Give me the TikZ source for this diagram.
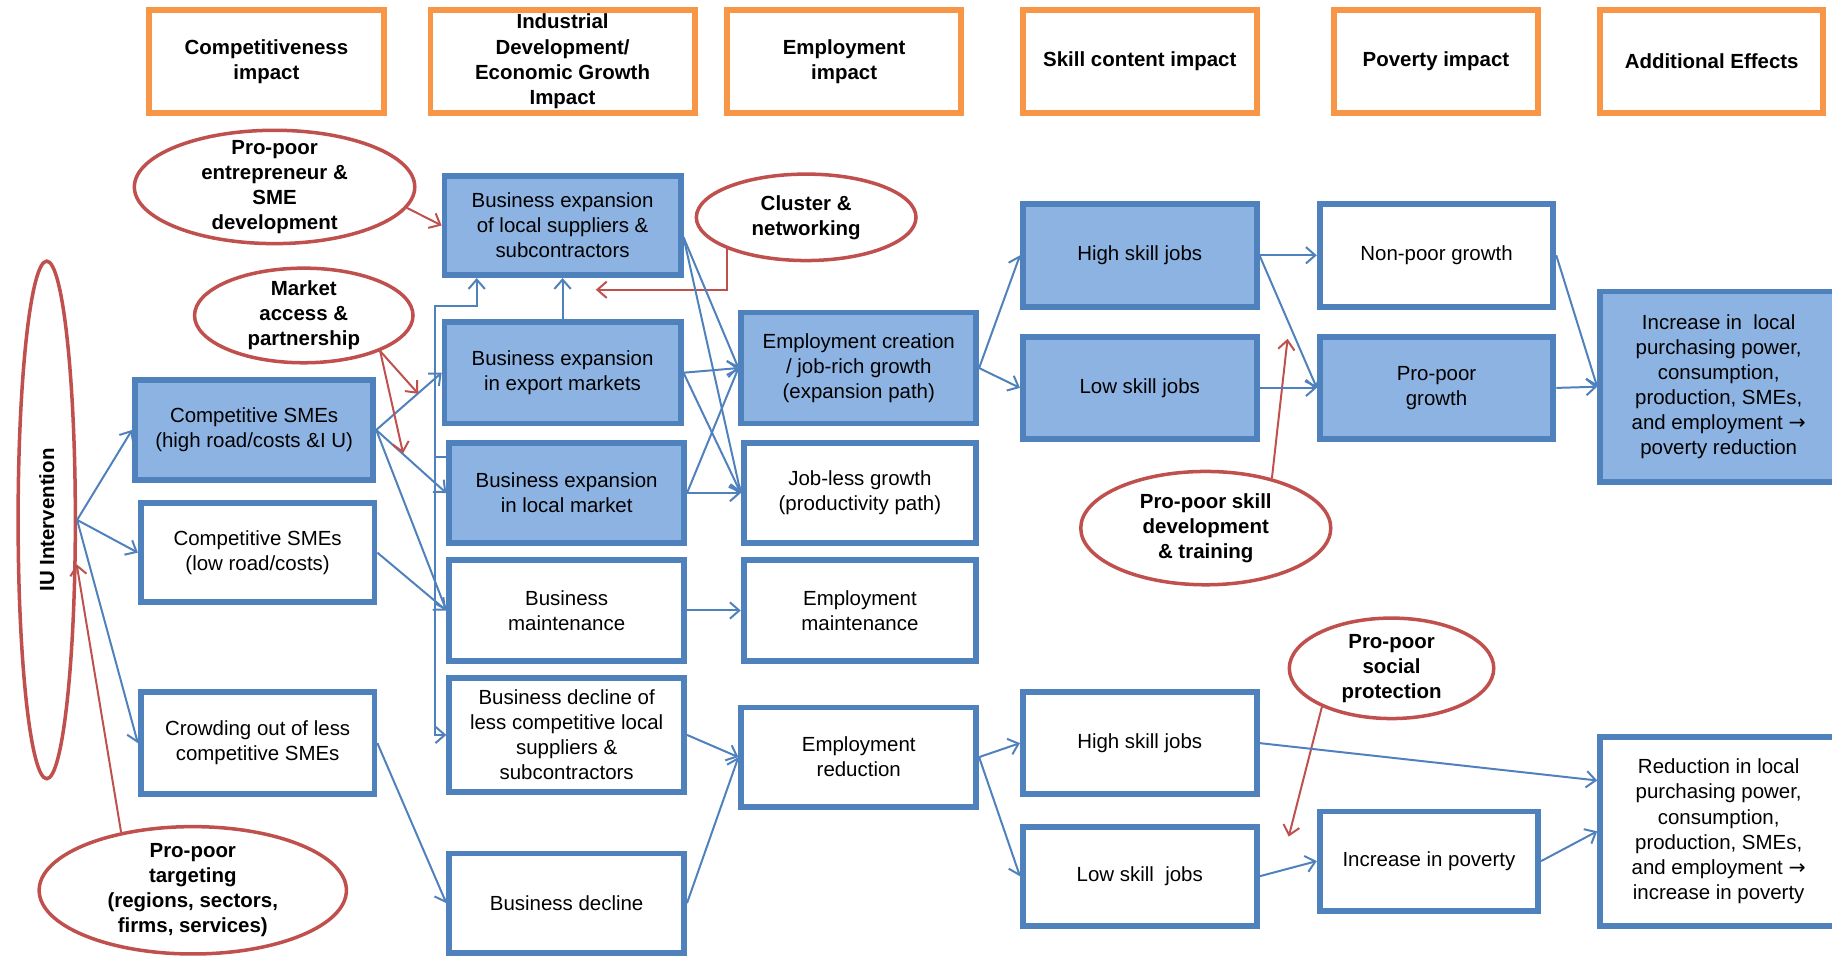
\documentclass[tikz,border=0pt]{standalone}
\usepackage{fontspec}
\setmainfont{Liberation Sans}
\newfontfamily\arrfont{DejaVu Sans}
\usetikzlibrary{shapes.geometric,arrows.meta,calc}
\definecolor{orng}{HTML}{F79646}
\definecolor{bblue}{HTML}{4F81BD}
\definecolor{bfl}{HTML}{8DB3E2}
\definecolor{rred}{HTML}{C0504D}
\newcommand\myfs{\fontsize{17.5}{21.5}\selectfont}
\begin{document}
\begin{tikzpicture}[x=1pt,y=-1pt,
 sz/.style 2 args={minimum width=#1pt,minimum height=#2pt},
 hdr/.style={rectangle, draw=orng, line width=5pt, fill=white, align=center, inner sep=0pt, font=\myfs\bfseries},
 bbox/.style={rectangle, draw=bblue, line width=5pt, fill=white, align=center, inner sep=0pt, font=\myfs},
 bfill/.style={bbox, fill=bfl},
 rell/.style={ellipse, draw=rred, line width=3pt, inner sep=0pt},
 rtext/.style={align=center, inner sep=0pt, font=\myfs\bfseries},
 conn/.style={draw=bblue, line width=1.7pt, -{Straight Barb[length=8pt,width=14pt]}},
 rconn/.style={draw=rred, line width=1.7pt, -{Straight Barb[length=8pt,width=14pt]}},
]
\useasboundingbox[fill=white] (0,0) rectangle (1568,820);

% headers
\node[hdr, sz={201}{88}] (h1) at (228,52.5) {Competitiveness\\impact};
\node[hdr, sz={226}{88}] (h2) at (481.5,52.5) {Industrial\\Development/\\Economic Growth\\Impact};
\node[hdr, sz={200}{88}] (h3) at (722.5,52.5) {Employment\\impact};
\node[hdr, sz={200}{88}] (h4) at (975.5,52.5) {Skill content impact};
\node[hdr, sz={175}{88}] (h5) at (1229,52.5) {Poverty impact};
\node[hdr, sz={191}{88}] (h6) at (1465,52.5) {Additional Effects};

% boxes
\node[bfill, sz={204}{85}] (cshigh) at (217.5,368) {Competitive SMEs\\(high road/costs \&I U)};
\node[bbox, sz={200}{85}] (cslow) at (220.5,473) {Competitive SMEs\\(low road/costs)};
\node[bbox, sz={200}{87}] (crowd) at (220.5,636) {Crowding out of less\\competitive SMEs};
\node[bfill, sz={202}{85}] (sup) at (481.5,193) {Business expansion\\of local suppliers \&\\subcontractors};
\node[bfill, sz={202}{87}] (export) at (481.5,319) {Business expansion\\in export markets};
\node[bfill, sz={201}{85}] (local) at (485,422) {Business expansion\\in local market};
\node[bbox, sz={201}{86}] (maint) at (485,522.5) {Business\\maintenance};
\node[bbox, sz={201}{97}] (dsup) at (485,629) {Business decline of\\less competitive local\\suppliers \&\\subcontractors};
\node[bbox, sz={201}{85}] (decl) at (485,773) {Business decline};
\node[bfill, sz={201}{95}] (ecr) at (735,315) {Employment creation\\/ job-rich growth\\(expansion path)};
\node[bbox, sz={199}{85}] (jl) at (736,422) {Job-less growth\\(productivity path)};
\node[bbox, sz={199}{86}] (em) at (736,522.5) {Employment\\maintenance};
\node[bbox, sz={201}{85}] (ered) at (735,648) {Employment\\reduction};
\node[bfill, sz={200}{88}] (hs1) at (975.5,218.5) {High skill jobs};
\node[bfill, sz={200}{87}] (ls1) at (975.5,332) {Low skill jobs};
\node[bbox, sz={200}{87}] (hs2) at (975.5,636) {High skill jobs};
\node[bbox, sz={200}{85}] (ls2) at (975.5,750) {Low skill\ \ jobs};
\node[bbox, sz={200}{88}] (np) at (1229.5,218.5) {Non-poor growth};
\node[bfill, sz={200}{87}] (pp) at (1229.5,332) {Pro-poor\\growth};
\node[bbox, sz={187}{85}] (ip) at (1223,737) {Increase in poverty};
\node[bfill, sz={203}{163}] (inc) at (1471,331) {Increase in\ \ local\\purchasing power,\\consumption,\\production, SMEs,\\and employment {\arrfont →}\\poverty reduction};
\node[bbox, sz={203}{162}] (rdc) at (1471,711.5) {Reduction in local\\purchasing power,\\consumption,\\production, SMEs,\\and employment {\arrfont →}\\increase in poverty};

% ellipses
\node[rell, sz={240}{97}] (ent) at (235,160) {};
\node[rtext] (entT) at (ent.center) {Pro-poor\\entrepreneur \&\\SME\\development};
\node[rell, sz={187}{81}] (mkt) at (260,270) {};
\node[rtext] (mktT) at (mkt.center) {Market\\access \&\\partnership};
\node[rell, sz={188}{74}] (clu) at (690,186) {};
\node[rtext] (cluT) at (clu.center) {Cluster \&\\networking};
\node[rell, sz={214}{97}] (skd) at (1032,452) {};
\node[rtext] (skdT) at (skd.center) {Pro-poor skill\\development\\\& training};
\node[rell, sz={175}{86}] (sp) at (1191,572) {};
\node[rtext] (spT) at (sp.center) {Pro-poor\\social\\protection};
\node[rell, sz={263}{109}] (tgt) at (165,762) {};
\node[rtext] (tgtT) at (tgt.center) {Pro-poor\\targeting\\(regions, sectors,\\firms, services)};
\node[rell, sz={49}{443}] (iu) at (40,445) {};
\node[rtext, rotate=90] (iuT) at (iu.center) {IU Intervention};

% free ends
\coordinate (mA) at (358,337);
\coordinate (mB) at (345,388);
\coordinate (cluE) at (510,248);
\coordinate (skdE) at (1102,290);
\coordinate (spE) at (1103,716);
\coordinate (busL) at (372,391);
\coordinate (busT) at (408,262);

% IU
\draw[conn] (iu.east) -- (cshigh.west);
\draw[conn] (iu.east) -- (cslow.west);
\draw[conn] (iu.east) -- (crowd.west);
\draw[rconn] (tgt.141) -- (iu.-56);

% column 1 -> 2
\draw[conn] (cshigh.east) -- (export.west);
\draw[conn] (cshigh.east) -- (local.west);
\draw[conn] (cshigh.east) -- (maint.west);
\draw[conn] (cslow.east) -- (maint.west);
\draw[conn] (crowd.east) -- (decl.west);

% red influences
\draw[rconn] (ent.-9) -- (sup.west);
\draw[rconn] (mkt.-25) -- (mA);
\draw[rconn] (mkt.-25) -- (mB);
\draw[rconn] (clu.202) |- (cluE);
\draw[rconn] (skd.37) -- (skdE);
\draw[rconn] (sp.209) -- (spE);

% bus
\draw[conn] (local.west |- busL) -- (busL) |- (busT) -- (busT |- sup.south);
\draw[conn] (busL) |- (dsup.west);
\draw[conn] (export.north) -- (sup.south);

% column 2 -> 3
\draw[conn] ($(sup.east)+(0,10)$) -- (ecr.west);
\draw[conn] ($(sup.east)+(0,10)$) -- (jl.west);
\draw[conn] (export.east) -- (ecr.west);
\draw[conn] (export.east) -- (jl.west);
\draw[conn] (local.east) -- (ecr.west);
\draw[conn] (local.east) -- (jl.west);
\draw[conn] (maint.east) -- (em.west);
\draw[conn] (dsup.east) -- (ered.west);
\draw[conn] (decl.east) -- (ered.west);

% column 3 -> 4
\draw[conn] (ecr.east) -- (hs1.west);
\draw[conn] (ecr.east) -- (ls1.west);
\draw[conn] (ered.east) -- (hs2.west);
\draw[conn] (ered.east) -- (ls2.west);

% column 4 -> 5/6
\draw[conn] (hs1.east) -- (np.west);
\draw[conn] (hs1.east) -- (pp.west);
\draw[conn] (ls1.east) -- (pp.west);
\draw[conn] (hs2.east) -- ($(rdc.north west)+(0,40)$);
\draw[conn] (ls2.east) -- (ip.west);

% column 5 -> 6
\draw[conn] (np.east) -- (inc.west);
\draw[conn] (pp.east) -- (inc.west);
\draw[conn] (ip.east) -- (rdc.west);
\end{tikzpicture}
\end{document}
